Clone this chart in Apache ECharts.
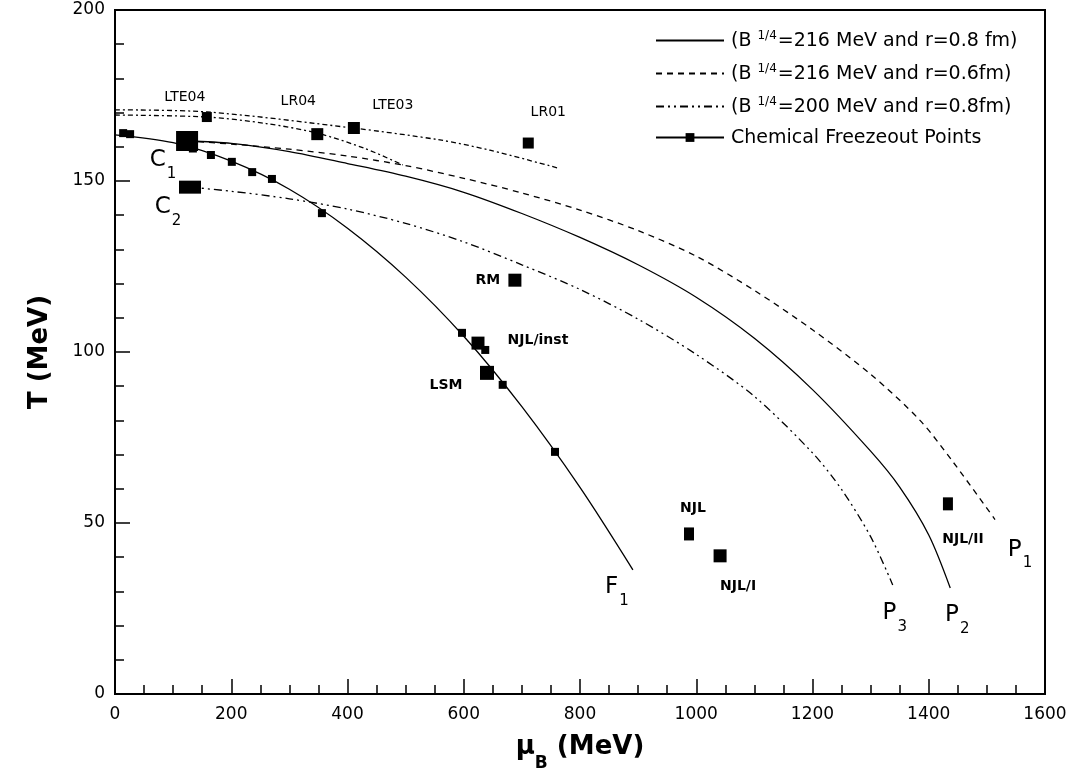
<!DOCTYPE html>
<html><head><meta charset="utf-8">
<script src="https://cdn.jsdelivr.net/npm/echarts@6.0.0/dist/echarts.min.js"></script>
<style>html,body{margin:0;padding:0;background:#fff}#c{width:1080px;height:782px}</style>
</head><body><div id="c"></div>
<script>
// ---- data (mu_B in MeV, T in MeV) ----
const curveP2 = [[124,161.7],[200,161],[300,158.6],[400,155.1],[500,151.4],[600,146.7],[700,140.5],[800,133.5],[900,125.5],[1000,116],[1100,104],[1200,89],[1300,71],[1350,60.5],[1400,46.5],[1437,31]];
const curveP1 = [[124,161.7],[200,160.8],[300,159.3],[400,157.3],[500,154.5],[600,150.8],[700,146.5],[800,141.5],[900,135.5],[1000,128],[1100,118],[1200,106.5],[1300,93.5],[1385,80],[1442,67.8],[1514,51]];
const curveP3 = [[129,148.2],[200,147],[300,144.8],[400,141.8],[500,137.6],[600,132.2],[700,125.5],[800,118.3],[900,109.6],[1000,99.3],[1100,87],[1200,70.5],[1250,59.8],[1300,46],[1338,31.9]];
const curveF1 = [[0,163.5],[100,161.2],[200,155.8],[300,147.6],[400,136.2],[500,121.9],[600,104.6],[700,84],[800,60.4],[891,36.3]];
const latticeA = [[0,170.8],[158,170.2],[409,165.5],[559,162],[645,159],[762,153.8]];
const latticeB = [[0,169.3],[158,168.7],[260,166.8],[348,164],[430,159.5],[495,154.7]];
const freezePoints = [[14,164],[26,163.7],[134,159.5],[165,157.6],[201,155.6],[236,152.6],[270,150.6],[356,140.6],[597,105.6],[637,100.6],[667,90.4],[757,70.8]];
const namedNames = ['LTE04','LR04','LTE03','LR01','C1','C2','RM','NJL/inst','LSM','NJL','NJL/I','NJL/II'];
const namedMu    = [158,348,411,711,124,129,688,624.5,640,987.5,1041,1433];
const namedT     = [168.7,163.7,165.5,161.1,161.7,148.2,121,102.6,93.9,46.8,40.4,55.6];
const curveTags  = ['F1','P3','P2','P1'];
const legendNames = ['(B^1/4=216 MeV and r=0.8 fm)','(B^1/4=216 MeV and r=0.6fm)','(B^1/4=200 MeV and r=0.8fm)','Chemical Freezeout Points'];
const xTickStep = 200, yTickStep = 50;

// ---- styles ----
const FONT = 'DejaVu Sans, Liberation Sans, Arial, sans-serif';
const namedStyle = {
  'LTE04':   {size:10, off:[-22,-20], fs:14, fw:'normal'},
  'LR04':    {size:12, off:[-19,-33], fs:14, fw:'normal'},
  'LTE03':   {size:12, off:[39,-23], fs:14, fw:'normal'},
  'LR01':    {size:11, off:[20,-31], fs:14, fw:'normal'},
  'C1':      {size:[22,20], off:[-24,24], rich:true},
  'C2':      {size:[22,13], off:[-22,25], rich:true},
  'RM':      {size:13, off:[-27,0], fs:14, fw:'bold'},
  'NJL/inst':{size:13, off:[60,-3], fs:14, fw:'bold'},
  'LSM':     {size:14, off:[-41,12], fs:14, fw:'bold'},
  'NJL':     {size:[10,13], off:[4,-26], fs:14, fw:'bold'},
  'NJL/I':   {size:13, off:[18,31], fs:14, fw:'bold'},
  'NJL/II':  {size:[10,13], off:[15,36], fs:14, fw:'bold'}
};
const tagOffsets = {F1:[-16,22], P3:[2,33], P2:[7,32], P1:[25,35]};
const subRich = {
  b:{fontSize:23, lineHeight:24, verticalAlign:'top', fontFamily:FONT, color:'#000'},
  s:{fontSize:15, lineHeight:33, verticalAlign:'bottom', fontFamily:FONT, color:'#000', padding:[0,0,0,1]}
};
function subText(t){ return '{b|' + t[0] + '}{s|' + t.slice(1) + '}'; }

const namedData = namedNames.map((n,i)=>{
  const st = namedStyle[n];
  return {
    name:n, value:[namedMu[i], namedT[i]], symbolSize: st.size,
    label:{show:true, position:'inside', offset:st.off,
      formatter: st.rich ? subText(n) : n,
      fontSize: st.fs || 14, fontWeight: st.fw || 'normal', fontFamily:FONT, color:'#000', rich: subRich}
  };
});
const curveMap = {F1:curveF1, P3:curveP3, P2:curveP2, P1:curveP1};
const tagData = curveTags.map(t=>{
  const c = curveMap[t]; const p = c[c.length-1];
  return {name:t, value:p, label:{show:true, position:'inside', offset:tagOffsets[t], formatter: subText(t), color:'#000', rich: subRich}};
});

const lineBase = {type:'line', symbol:'none', smooth:0.3, silent:true, z:2};
const option = {
  animation:false,
  backgroundColor:'#fff',
  grid:{left:115, right:35, top:10, bottom:88, show:true, borderColor:'#000', borderWidth:2},
  xAxis:{type:'value', min:0, max:1600, interval:xTickStep,
    axisLine:{lineStyle:{color:'#000', width:2}},
    axisTick:{inside:true, length:15, lineStyle:{color:'#000', width:1.5}},
    minorTick:{show:true, splitNumber:4, length:9, lineStyle:{color:'#000', width:1.5}},
    splitLine:{show:false},
    axisLabel:{color:'#000', fontSize:17, margin:12, fontFamily:FONT, formatter:function(v){return String(v);}},
    name:'{m|μ}{s|B}{m| (MeV)}', nameLocation:'middle', nameGap:40,
    nameTextStyle:{rich:{
      m:{fontSize:26, fontWeight:'bold', fontFamily:FONT, color:'#000', lineHeight:26, verticalAlign:'top'},
      s:{fontSize:17, fontWeight:'bold', fontFamily:FONT, color:'#000', lineHeight:38, verticalAlign:'bottom'}}}
  },
  yAxis:{type:'value', min:0, max:200, interval:yTickStep,
    axisLine:{lineStyle:{color:'#000', width:2}},
    axisTick:{inside:true, length:15, lineStyle:{color:'#000', width:1.5}},
    minorTick:{show:true, splitNumber:5, length:9, lineStyle:{color:'#000', width:1.5}},
    splitLine:{show:false},
    axisLabel:{color:'#000', fontSize:17, margin:10, fontFamily:FONT},
    name:'T (MeV)', nameLocation:'middle', nameGap:62, nameRotate:90,
    nameTextStyle:{fontSize:26, fontWeight:'bold', fontFamily:FONT, color:'#000'}
  },
  legend:{
    orient:'vertical', left:650, top:25, itemWidth:68, itemHeight:11, itemGap:12,
    data:[
      {name:legendNames[0], itemStyle:{opacity:0}},
      {name:legendNames[1], itemStyle:{opacity:0}},
      {name:legendNames[2], itemStyle:{opacity:0}},
      {name:legendNames[3]}
    ],
    formatter:function(n){
      if(n.indexOf('^1/4')>=0){
        const parts = n.split('^1/4');
        return '{n|' + parts[0] + '}{sup|1/4}{n|' + parts[1] + '}';
      }
      return '{n|' + n + '}';
    },
    textStyle:{fontSize:19, fontFamily:FONT, color:'#000', padding:[0,0,0,2], rich:{
      n:{fontSize:19, fontFamily:FONT, color:'#000', lineHeight:21, verticalAlign:'bottom'},
      sup:{fontSize:12, fontFamily:FONT, color:'#000', lineHeight:21, verticalAlign:'top', padding:[0,1,0,6]}
    }}
  },
  series:[
    Object.assign({}, lineBase, {name:legendNames[0], data:curveP2, lineStyle:{color:'#000', width:1.3, type:'solid'}}),
    Object.assign({}, lineBase, {name:legendNames[1], data:curveP1, lineStyle:{color:'#000', width:1.3, type:[6,5]}}),
    Object.assign({}, lineBase, {name:legendNames[2], data:curveP3, lineStyle:{color:'#000', width:1.3, type:[8,4,2,4,2,4]}}),
    Object.assign({}, lineBase, {name:'F1 fit', data:curveF1, lineStyle:{color:'#000', width:1.3, type:'solid'}}),
    Object.assign({}, lineBase, {name:'lattice A', data:latticeA, lineStyle:{color:'#000', width:1.3, type:[5,3,2,3]}}),
    Object.assign({}, lineBase, {name:'lattice B', data:latticeB, lineStyle:{color:'#000', width:1.3, type:[5,3,2,3]}}),
    {type:'line', name:legendNames[3], data:[], symbol:'rect', symbolSize:8, itemStyle:{color:'#000'}, lineStyle:{color:'#000', width:1.5}},
    {type:'scatter', name:'freeze', data:freezePoints, symbol:'rect', symbolSize:8, itemStyle:{color:'#000', opacity:1}, z:4, silent:true},
    {type:'scatter', name:'named', data:namedData, symbol:'rect', itemStyle:{color:'#000', opacity:1}, z:5, silent:true},
    {type:'scatter', name:'tags', data:tagData, symbol:'rect', symbolSize:1, itemStyle:{color:'rgba(0,0,0,0)', opacity:1}, z:5, silent:true}
  ]
};
const chart = echarts.init(document.getElementById('c'));
chart.setOption(option);
</script></body></html>
